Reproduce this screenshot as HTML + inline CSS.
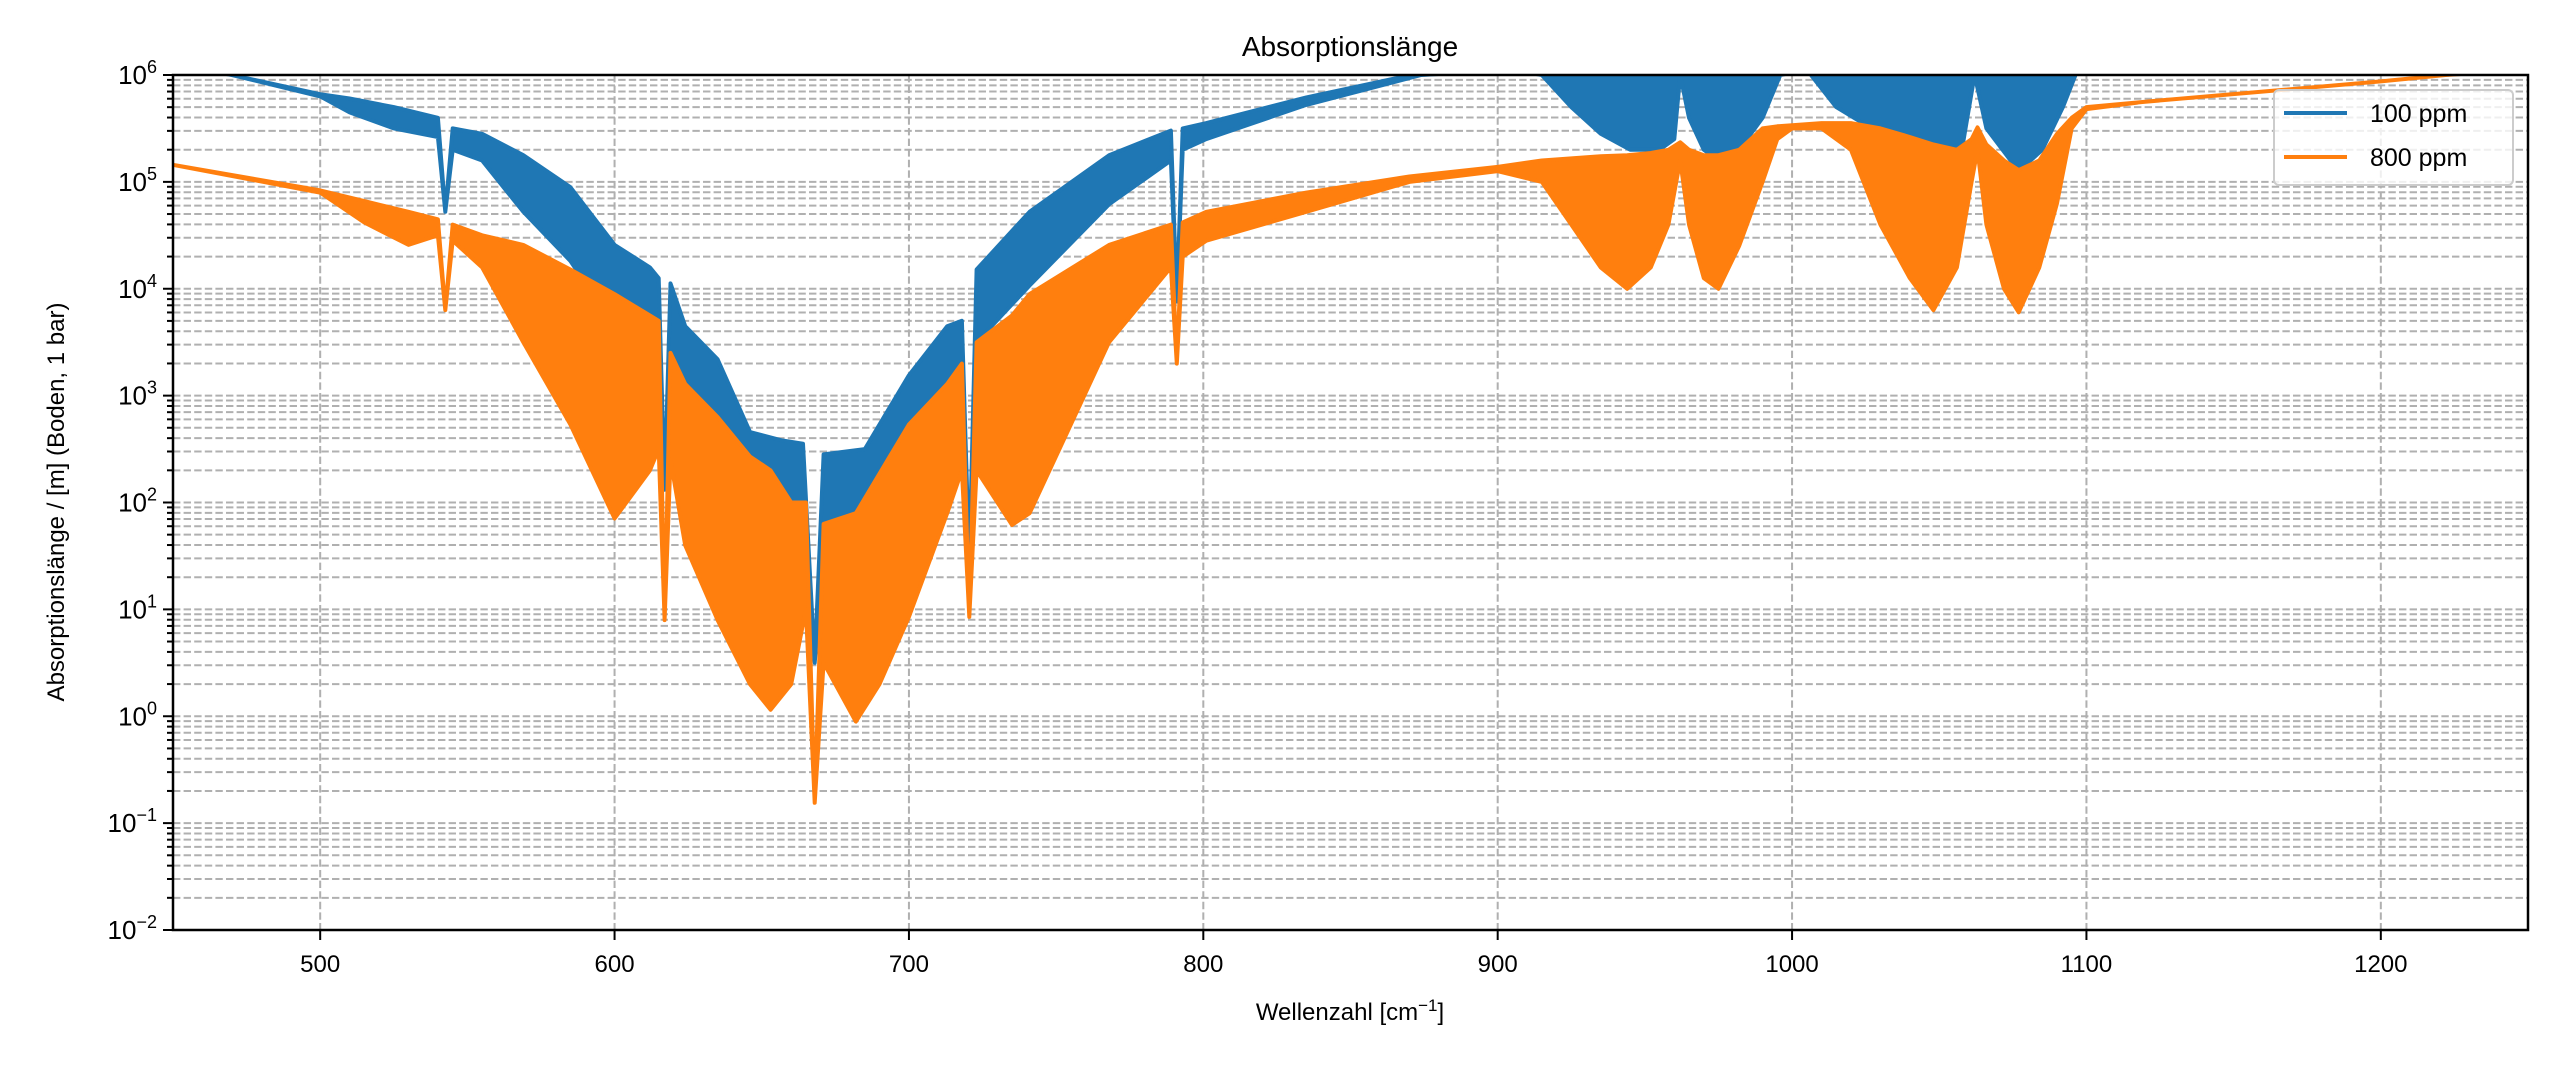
<!DOCTYPE html>
<html><head><meta charset="utf-8"><style>
html,body{margin:0;padding:0;background:#fff;}
svg{display:block;font-family:"Liberation Sans","DejaVu Sans",sans-serif;}
</style></head><body>
<svg id="chart" width="2560" height="1067" viewBox="0 0 2560 1067" xmlns="http://www.w3.org/2000/svg">
<defs><clipPath id="plotclip"><rect x="173" y="75" width="2355" height="855"/></clipPath></defs>
<rect width="2560" height="1067" fill="#fff"/>
<text x="1350" y="56" font-size="28" text-anchor="middle">Absorptionslänge</text>
<g id="grid"></g>
<g id="series" clip-path="url(#plotclip)"></g>
<rect x="173" y="75" width="2355" height="855" fill="none" stroke="#000" stroke-width="2.5"/>
<g id="axes"></g>
<text x="1350" y="1020" font-size="24" text-anchor="middle">Wellenzahl [cm<tspan baseline-shift="super" font-size="17">−1</tspan>]</text>
<text transform="translate(64,502) rotate(-90)" font-size="24" text-anchor="middle">Absorptionslänge / [m] (Boden, 1 bar)</text>
<g>
<rect x="2274" y="90" width="239" height="95" rx="5" fill="#fff" fill-opacity="0.8" stroke="#ccc" stroke-width="2"/>
<line x1="2284" y1="113" x2="2347" y2="113" stroke="#1f77b4" stroke-width="4"/>
<text x="2370" y="122" font-size="25">100 ppm</text>
<line x1="2284" y1="157" x2="2347" y2="157" stroke="#ff7f0e" stroke-width="4"/>
<text x="2370" y="166" font-size="25">800 ppm</text>
</g>
</svg>
<script>
// data (wavenumber cm^-1, log10 of absorption length in m: upper and lower envelope)
const blueWn = [450,470,500,510,525,540,542.5,545,555,569,585,600,612,615,617,619,624,635,646,657,664,668,671,685,700,713,718,720.5,723,741,768,789,791,793,801,835,874,905,915,925,935,945,955,960,962,965,970,975,982,990,996,1005,1015,1030,1048,1058,1062,1066,1077,1085,1092,1097,1250];
const blueHi = [6.1,6.0,5.82,5.78,5.7,5.6,4.72,5.5,5.45,5.25,4.95,4.41,4.2,4.1,2.12,4.05,3.65,3.34,2.66,2.58,2.55,0.5,2.45,2.5,3.19,3.65,3.7,1.44,4.18,4.72,5.25,5.48,3.88,5.5,5.55,5.79,6.02,6.1,6.1,6.1,6.1,6.1,6.1,6.1,6.1,6.1,6.1,6.1,6.1,6.1,6.1,6.1,6.1,6.1,6.1,6.1,6.1,6.1,6.1,6.1,6.1,6.1,6.1];
const blueLo = [6.1,6.0,5.8,5.65,5.5,5.42,4.72,5.3,5.2,4.72,4.26,3.65,3.45,3.2,2.12,3.3,3.04,2.66,1.9,1.66,1.6,0.5,1.5,1.7,2.35,2.89,2.9,1.44,3.5,4.03,4.79,5.2,3.88,5.3,5.4,5.72,6.0,6.05,6.0,5.7,5.45,5.3,5.3,5.4,6.0,5.6,5.3,5.2,5.3,5.6,6.0,6.05,5.7,5.45,5.3,5.35,6.0,5.5,5.1,5.3,5.7,6.05,6.1];
const orangeWn = [450,500,515,530,540,542.5,545,555,569,585,600,612,615,617,619,624,635,646,653,660,665,668,671,682,690,700,713,718,720.5,723,735,741,768,789,791,793,801,835,870,900,915,925,935,944,952,958,962,965,970,975,982,990,995,1000,1010,1020,1030,1040,1048,1056,1061,1063,1066,1072,1077,1084,1090,1095,1100,1120,1200,1222,1250];
const orangeHi = [5.16,4.92,4.82,4.72,4.65,3.8,4.6,4.5,4.41,4.18,3.95,3.75,3.7,0.9,3.4,3.11,2.8,2.43,2.3,2.0,2.0,-0.81,1.8,1.9,2.27,2.73,3.11,3.3,0.93,3.5,3.75,3.95,4.41,4.6,3.3,4.62,4.72,4.9,5.05,5.14,5.2,5.22,5.24,5.25,5.27,5.3,5.37,5.3,5.25,5.25,5.3,5.5,5.52,5.53,5.55,5.55,5.5,5.42,5.35,5.3,5.4,5.51,5.35,5.2,5.11,5.2,5.45,5.6,5.7,5.75,5.94,6.0,6.05];
const orangeLo = [5.16,4.9,4.62,4.41,4.5,3.8,4.45,4.2,3.5,2.73,1.85,2.3,2.5,0.9,2.4,1.6,0.9,0.3,0.06,0.3,1.0,-0.81,0.5,-0.05,0.3,0.93,1.9,2.3,0.93,2.3,1.79,1.9,3.5,4.2,3.3,4.3,4.45,4.72,5.0,5.1,5.0,4.6,4.2,4.0,4.2,4.6,5.2,4.6,4.1,4.0,4.4,5.0,5.4,5.5,5.5,5.3,4.6,4.1,3.8,4.2,5.0,5.3,4.6,4.0,3.78,4.2,4.8,5.5,5.68,5.75,5.94,6.0,6.05];
const xTicks = [500,600,700,800,900,1000,1100,1200];
const yTickExps = [-2,-1,0,1,2,3,4,5,6];

const NS = 'http://www.w3.org/2000/svg';
const X0 = 173, X1 = 2528, Y0 = 930, Y1 = 75;
const xMin = 450, xMax = 1250, yMin = -2, yMax = 6;
function xs(w){ return X0 + (w - xMin) / (xMax - xMin) * (X1 - X0); }
function ys(lg){ return Y0 - (lg - yMin) / (yMax - yMin) * (Y0 - Y1); }
function mk(tag, attrs, parent){ const e = document.createElementNS(NS, tag); for (const k in attrs) e.setAttribute(k, attrs[k]); parent.appendChild(e); return e; }

const grid = document.getElementById('grid');
const axes = document.getElementById('axes');
// vertical grid + x ticks
xTicks.forEach(t => {
  const x = xs(t);
  const g = mk('line', {x1:x, x2:x, y1:Y1, y2:Y0, stroke:'#b0b0b0', 'stroke-width':2, 'stroke-dasharray':'7.4,3.2'}, grid);
  
  
  const tk = mk('line', {x1:x, x2:x, y1:Y0, y2:Y0+10, stroke:'#000', 'stroke-width':2}, axes);
  
  
  const lb = mk('text', {x:x, y:Y0+42, 'font-size':24, 'text-anchor':'middle'}, axes);
  lb.textContent = String(t);
  
  
});
// horizontal grid (major + minor) and y ticks
yTickExps.forEach(e => {
  for (let m = 1; m <= 9; m++) {
    const lg = e + Math.log10(m);
    if (lg > yMax + 1e-9) continue;
    const y = ys(lg);
    if (!(m === 1 && (e === yMin || e === yMax))) {
      const g = mk('line', {x1:X0, x2:X1, y1:y, y2:y, stroke:'#b0b0b0', 'stroke-width':2, 'stroke-dasharray':'7.4,3.2'}, grid);
      
      
    }
    const tk = mk('line', {x1:m===1?X0-10:X0-6, x2:X0, y1:y, y2:y, stroke:'#000', 'stroke-width':2}, axes);
    
    
  }
  const y = ys(e);
  const lb = mk('text', {x:X0-16, y:y+9, 'font-size':26, 'text-anchor':'end'}, axes);
  
  
  const t1 = mk('tspan', {}, lb); t1.textContent = '10';
  const t2 = mk('tspan', {dy:-11, 'font-size':18}, lb); t2.textContent = e < 0 ? '−' + Math.abs(e) : String(e);
});

function drawSeries(wn, hi, lo, color, name){
  const series = document.getElementById('series');
  let pts = [];
  for (let i = 0; i < wn.length; i++) pts.push(xs(wn[i]).toFixed(1) + ',' + ys(hi[i]).toFixed(1));
  for (let i = wn.length - 1; i >= 0; i--) pts.push(xs(wn[i]).toFixed(1) + ',' + ys(lo[i]).toFixed(1));
  const p = mk('polygon', {points: pts.join(' '), fill: color, stroke: color, 'stroke-width': 4, 'stroke-linejoin':'round'}, series);
  
  
}
drawSeries(blueWn, blueHi, blueLo, '#1f77b4', 'series-100ppm');
drawSeries(orangeWn, orangeHi, orangeLo, '#ff7f0e', 'series-800ppm');
</script>
</body></html>
